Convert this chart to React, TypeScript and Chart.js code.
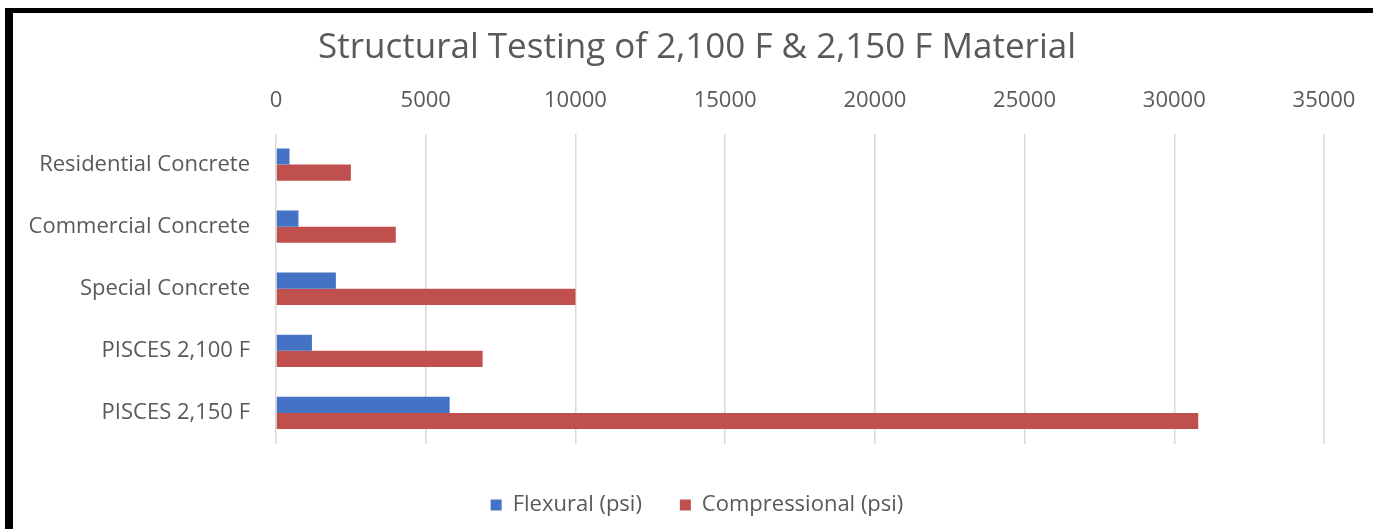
import React, { useEffect, useRef } from "react";
import { Chart, registerables } from "chart.js";

Chart.register(...registerables);

const categories = [
  "Residential Concrete",
  "Commercial Concrete",
  "Special Concrete",
  "PISCES 2,100 F",
  "PISCES 2,150 F",
];
const flexural = [450, 750, 2000, 1200, 5800];
const compressional = [2500, 4000, 10000, 6900, 30800];
const xTickValues = [0, 5000, 10000, 15000, 20000, 25000, 30000, 35000];
const seriesNames = ["Flexural (psi)", "Compressional (psi)"];
const titleText = "Structural Testing of 2,100 F & 2,150 F Material";

const FONT = "'Open Sans', sans-serif";
const TEXT = "#595959";

export default function App() {
  const ref = useRef<HTMLCanvasElement>(null);
  useEffect(() => {
    if (!ref.current) return;
    const chart = new Chart(ref.current, {
      type: "bar",
      data: {
        labels: categories,
        datasets: [
          {
            label: seriesNames[0],
            data: flexural,
            backgroundColor: "#4472C4",
            barPercentage: 1,
            categoryPercentage: 0.52,
          },
          {
            label: seriesNames[1],
            data: compressional,
            backgroundColor: "#C0504D",
            barPercentage: 1,
            categoryPercentage: 0.52,
          },
        ],
      },
      options: {
        indexAxis: "y",
        responsive: false,
        animation: false,
        layout: { padding: { left: 21, right: 0, top: 0, bottom: 3 } },
        plugins: {
          title: {
            display: true,
            text: titleText,
            color: TEXT,
            font: { family: FONT, size: 35, weight: "normal" },
            padding: { top: 27, bottom: 0 },
          },
          legend: {
            position: "bottom",
            labels: {
              color: TEXT,
              font: { family: FONT, size: 22 },
              boxWidth: 11,
              boxHeight: 11,
              padding: 38,
            },
          },
          tooltip: { enabled: false },
        },
        scales: {
          x: {
            position: "top",
            min: 0,
            max: 35000,
            afterBuildTicks: (s: any) => {
              s.ticks = xTickValues.map((v) => ({ value: v }));
            },
            afterFit: (s: any) => {
              s.height = 64.5;
              s.paddingRight = 49;
            },
            grid: { color: "#d9d9d9", drawTicks: false, lineWidth: 1.5 },
            border: { display: false },
            ticks: {
              color: TEXT,
              font: { family: FONT, size: 22 },
              padding: 20,
              callback: (v: any) => String(v),
            },
          },
          spacer: {
            type: "linear",
            position: "bottom",
            display: true,
            afterFit: (s: any) => {
              s.height = 12;
            },
            grid: { display: false, drawTicks: false },
            border: { display: false },
            ticks: { display: false },
          },
          y: {
            afterFit: (s: any) => {
              s.width = 276 - 21;
            },
            grid: { display: false },
            border: { display: false },
            ticks: {
              color: TEXT,
              font: { family: FONT, size: 22 },
              padding: 18,
            },
          },
        },
      },
    });
    return () => chart.destroy();
  }, []);
  return (
    <div style={{ position: "fixed", left: 0, top: 0, width: 1373, height: 529, background: "#fff" }}>
      <canvas ref={ref} width={1373} height={529} style={{ position: "absolute", left: 0, top: 0 }} />
      <div style={{ position: "absolute", left: 5, top: 8, width: 1368, height: 5, background: "#000" }} />
      <div style={{ position: "absolute", left: 5, top: 8, width: 8, height: 521, background: "#000" }} />
    </div>
  );
}
